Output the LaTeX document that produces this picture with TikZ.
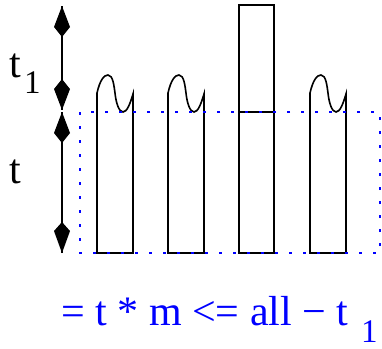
\documentclass[tikz,border=0pt]{standalone}
\usepackage{fontspec}
\setmainfont{Liberation Serif}
\begin{document}
\begin{tikzpicture}[x=1pt,y=-1pt,
  col/.style={draw=black,line width=1.6pt,line join=miter},
  dotbox/.style={draw=blue,line width=1.6pt,dash pattern=on 3pt off 11pt},
  dimline/.style={line width=1.6pt},
  kiteup/.style={fill=black},
  lbl/.style={inner sep=0pt,anchor=base west,font=\fontsize{42}{48}\selectfont},
  sublbl/.style={inner sep=0pt,anchor=base west,font=\fontsize{33}{38}\selectfont},
  pics/wavycol/.style={code={
    \draw[col] (0,160) -- (0,0) .. controls (3,-13) and (7,-18) .. (11,-18)
      .. controls (16,-18) and (17,-7) .. (18,0)
      .. controls (19,10) and (22,19) .. (26,19)
      .. controls (30,19) and (33,11) .. (36,1) -- (36,160) -- cycle;
  }}
]
\useasboundingbox (0,0) rectangle (382,348);

% columns
\pic at (97,93) {wavycol};
\pic at (168,93) {wavycol};
\pic at (310,93) {wavycol};
\draw[col] (239,5) rectangle (274,253);
\draw[col] (239,112) -- (274,112);

% dotted box
\draw[dotbox] (80,112) rectangle (380,253);

% dimension arrows
\coordinate (a1) at (62,6);
\coordinate (a2) at (62,110);
\coordinate (b1) at (62,112);
\coordinate (b2) at (62,253);
\draw[dimline] (a1) -- (a2);
\draw[dimline] (b1) -- (b2);
\fill[kiteup] (a1) -- ++(8,21) -- ++(-8,10) -- ++(-8,-10) -- cycle;
\fill[kiteup] (a2) -- ++(8,-21) -- ++(-8,-10) -- ++(-8,10) -- cycle;
\fill[kiteup] (b1) -- ++(8,21) -- ++(-8,10) -- ++(-8,-10) -- cycle;
\fill[kiteup] (b2) -- ++(8,-22) -- ++(-8,-9) -- ++(-8,9) -- cycle;

% labels
\node[lbl] (tone) at (9,77) {t};
\node[sublbl] (tonesub) at (24,93) {1};
\node[lbl] (t) at (9,183) {t};
\node[lbl,text=blue] (eq) at (61,325) {= t * m <= all − t};
\node[sublbl,text=blue] (eqsub) at (361,342) {1};
\end{tikzpicture}
\end{document}
